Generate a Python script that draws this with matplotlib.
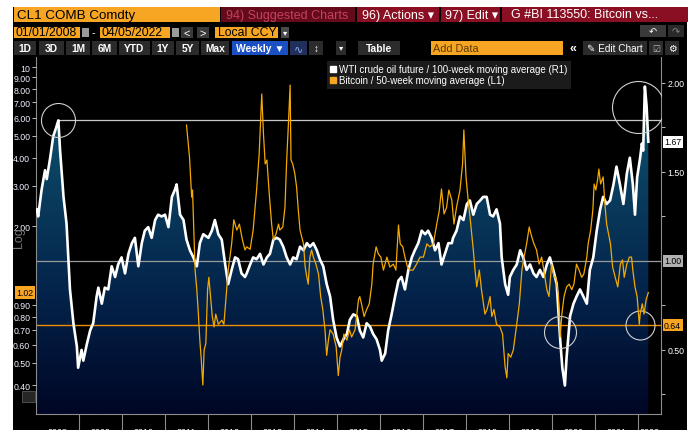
"""
# Bloomberg-style chart: WTI crude vs 100-week MA and Bitcoin vs 50-week MA
"""

### Packages
import numpy as np
import matplotlib
matplotlib.use("Agg")
import matplotlib.pyplot as plt
import matplotlib.transforms as mtransforms
from matplotlib.colors import LinearSegmentedColormap
from matplotlib.lines import Line2D
from matplotlib.patches import Rectangle
from matplotlib.ticker import FixedLocator, FixedFormatter, NullLocator

### Data
# WTI crude oil future / 100-week moving average (right axis, linear)
oil_t = [2008.02, 2008.05, 2008.13, 2008.21, 2008.25, 2008.33, 2008.40, 2008.47, 2008.52, 2008.56,
         2008.64, 2008.71, 2008.75, 2008.79, 2008.87, 2008.95, 2008.98, 2009.06, 2009.10, 2009.18,
         2009.26, 2009.33, 2009.41, 2009.45, 2009.53, 2009.60, 2009.68, 2009.76, 2009.84, 2009.91,
         2009.99, 2010.07, 2010.15, 2010.23, 2010.30, 2010.38, 2010.46, 2010.53, 2010.61, 2010.69,
         2010.77, 2010.84, 2010.92, 2011.00, 2011.08, 2011.16, 2011.23, 2011.27, 2011.35, 2011.43,
         2011.50, 2011.58, 2011.66, 2011.74, 2011.81, 2011.89, 2012.01, 2012.09, 2012.16, 2012.24,
         2012.32, 2012.40, 2012.47, 2012.55, 2012.63, 2012.70, 2012.78, 2012.86, 2012.90, 2012.98,
         2013.05, 2013.13, 2013.21, 2013.29, 2013.37, 2013.44, 2013.52, 2013.60, 2013.67, 2013.75,
         2013.83, 2013.91, 2013.98, 2014.06, 2014.14, 2014.22, 2014.30, 2014.37, 2014.45, 2014.53,
         2014.60, 2014.68, 2014.76, 2014.84, 2014.91, 2014.99, 2015.07, 2015.15, 2015.23, 2015.30,
         2015.38, 2015.46, 2015.53, 2015.61, 2015.69, 2015.77, 2015.84, 2015.92, 2016.00, 2016.04,
         2016.12, 2016.19, 2016.27, 2016.35, 2016.43, 2016.50, 2016.58, 2016.66, 2016.74, 2016.81,
         2016.89, 2016.97, 2017.05, 2017.12, 2017.20, 2017.28, 2017.36, 2017.43, 2017.51, 2017.59,
         2017.67, 2017.70, 2017.78, 2017.86, 2017.94, 2018.02, 2018.09, 2018.17, 2018.25, 2018.33,
         2018.40, 2018.48, 2018.56, 2018.63, 2018.71, 2018.79, 2018.83, 2018.91, 2018.98, 2019.02,
         2019.10, 2019.18, 2019.26, 2019.33, 2019.41, 2019.49, 2019.57, 2019.64, 2019.72, 2019.80,
         2019.88, 2019.95, 2020.03, 2020.11, 2020.19, 2020.24, 2020.30, 2020.34, 2020.42, 2020.50,
         2020.57, 2020.65, 2020.73, 2020.81, 2020.88, 2020.96, 2021.04, 2021.12, 2021.19, 2021.27,
         2021.35, 2021.43, 2021.50, 2021.58, 2021.66, 2021.74, 2021.81, 2021.88, 2021.93, 2021.98,
         2022.05, 2022.09, 2022.12, 2022.16, 2022.20, 2022.24]
oil_v = [1.29, 1.25, 1.40, 1.51, 1.46, 1.58, 1.70, 1.75, 1.79, 1.62,
         1.36, 1.21, 1.02, 0.84, 0.65, 0.52, 0.40, 0.50, 0.44, 0.53,
         0.61, 0.65, 0.80, 0.85, 0.76, 0.85, 0.84, 0.97, 0.91, 0.98,
         1.02, 0.93, 1.04, 1.10, 1.13, 0.97, 1.10, 1.17, 1.19, 1.13,
         1.23, 1.26, 1.25, 1.26, 1.19, 1.36, 1.40, 1.43, 1.26, 1.23,
         1.12, 1.06, 1.02, 0.97, 1.10, 1.15, 1.13, 1.17, 1.23, 1.15,
         1.12, 0.98, 0.87, 0.95, 1.02, 1.01, 0.93, 0.91, 0.93, 0.98,
         1.02, 1.01, 1.04, 0.98, 1.02, 1.04, 1.12, 1.13, 1.12, 1.08,
         1.02, 0.98, 1.02, 1.01, 1.08, 1.06, 1.10, 1.08, 1.10, 1.06,
         1.01, 0.97, 0.87, 0.80, 0.67, 0.57, 0.52, 0.56, 0.59, 0.67,
         0.70, 0.69, 0.61, 0.57, 0.65, 0.63, 0.59, 0.56, 0.50, 0.44,
         0.48, 0.61, 0.70, 0.80, 0.89, 0.91, 0.84, 0.95, 1.02, 1.06,
         1.10, 1.17, 1.15, 1.17, 1.13, 1.06, 1.10, 0.98, 1.04, 1.10,
         1.10, 1.13, 1.17, 1.25, 1.23, 1.32, 1.34, 1.26, 1.32, 1.34,
         1.36, 1.36, 1.26, 1.25, 1.29, 1.21, 1.02, 0.87, 0.81, 0.91,
         0.95, 0.98, 1.06, 1.02, 0.95, 0.98, 0.93, 0.91, 0.95, 0.91,
         0.98, 1.02, 0.95, 0.87, 0.56, 0.40, 0.30, 0.46, 0.69, 0.76,
         0.80, 0.84, 0.80, 0.76, 0.95, 1.02, 1.17, 1.29, 1.36, 1.32,
         1.34, 1.43, 1.53, 1.43, 1.32, 1.49, 1.58, 1.43, 1.26, 1.47,
         1.58, 1.66, 1.62, 1.98, 1.87, 1.67]

# Bitcoin / 50-week moving average (left axis, log)
btc_t = [2011.50, 2011.57, 2011.62, 2011.64, 2011.67, 2011.70, 2011.74, 2011.77, 2011.81, 2011.84,
         2011.88, 2011.91, 2011.95, 2011.99, 2012.02, 2012.06, 2012.10, 2012.14, 2012.18, 2012.24,
         2012.32, 2012.37, 2012.42, 2012.47, 2012.55, 2012.60, 2012.67, 2012.73, 2012.80, 2012.86,
         2012.90, 2012.98, 2013.05, 2013.13, 2013.19, 2013.25, 2013.29, 2013.33, 2013.37, 2013.43,
         2013.48, 2013.52, 2013.58, 2013.64, 2013.67, 2013.74, 2013.79, 2013.83, 2013.87, 2013.91,
         2013.93, 2013.97, 2014.02, 2014.06, 2014.10, 2014.14, 2014.18, 2014.22, 2014.26, 2014.30,
         2014.33, 2014.37, 2014.41, 2014.45, 2014.51, 2014.57, 2014.62, 2014.67, 2014.72, 2014.76,
         2014.80, 2014.84, 2014.91, 2014.98, 2015.03, 2015.07, 2015.11, 2015.16, 2015.23, 2015.29,
         2015.34, 2015.42, 2015.50, 2015.53, 2015.57, 2015.63, 2015.69, 2015.75, 2015.81, 2015.84,
         2015.91, 2015.96, 2016.02, 2016.08, 2016.16, 2016.23, 2016.31, 2016.37, 2016.43, 2016.47,
         2016.53, 2016.58, 2016.64, 2016.70, 2016.77, 2016.85, 2016.93, 2017.01, 2017.09, 2017.16,
         2017.24, 2017.32, 2017.38, 2017.43, 2017.49, 2017.55, 2017.60, 2017.67, 2017.72, 2017.78,
         2017.86, 2017.92, 2017.95, 2018.00, 2018.05, 2018.11, 2018.17, 2018.21, 2018.25, 2018.31,
         2018.36, 2018.44, 2018.49, 2018.56, 2018.60, 2018.65, 2018.71, 2018.79, 2018.85, 2018.91,
         2018.95, 2018.98, 2019.04, 2019.10, 2019.18, 2019.24, 2019.30, 2019.35, 2019.41, 2019.47,
         2019.53, 2019.58, 2019.64, 2019.70, 2019.76, 2019.81, 2019.88, 2019.93, 2019.99, 2020.05,
         2020.09, 2020.15, 2020.19, 2020.23, 2020.28, 2020.34, 2020.40, 2020.46, 2020.51, 2020.57,
         2020.63, 2020.69, 2020.74, 2020.81, 2020.84, 2020.90, 2020.95, 2020.98, 2021.02, 2021.06,
         2021.09, 2021.13, 2021.19, 2021.23, 2021.27, 2021.36, 2021.41, 2021.47, 2021.53, 2021.59,
         2021.64, 2021.68, 2021.74, 2021.80, 2021.85, 2021.88, 2021.93, 2021.98, 2022.03, 2022.05,
         2022.10, 2022.14, 2022.19, 2022.24]
btc_v = [5.56, 4.02, 2.68, 2.88, 1.92, 1.28, 1.05, 0.86, 0.63, 0.53,
         0.40, 0.57, 0.61, 1.05, 1.19, 0.98, 0.80, 0.72, 0.82, 0.74,
         0.77, 0.74, 0.98, 1.28, 1.67, 2.13, 1.92, 2.04, 1.74, 1.57,
         1.62, 1.58, 1.92, 2.88, 4.15, 7.61, 5.08, 3.75, 3.90, 2.68,
         2.04, 1.74, 1.84, 2.04, 1.92, 1.98, 2.42, 3.90, 5.62, 8.33,
         3.90, 3.75, 3.39, 2.97, 2.35, 1.92, 1.79, 1.67, 1.32, 1.19,
         1.11, 1.46, 1.57, 1.46, 1.36, 1.23, 0.98, 0.86, 0.70, 0.54,
         0.63, 0.70, 0.67, 0.59, 0.44, 0.53, 0.57, 0.67, 0.63, 0.70,
         0.65, 0.70, 0.95, 0.98, 0.91, 0.80, 0.86, 0.91, 1.11, 1.36,
         1.62, 1.51, 1.46, 1.28, 1.46, 1.32, 1.36, 1.28, 2.02, 1.67,
         1.62, 1.46, 1.32, 1.28, 1.28, 1.36, 1.46, 1.46, 1.67, 1.62,
         1.67, 2.04, 2.35, 2.91, 2.26, 2.42, 2.88, 2.60, 2.04, 2.42,
         2.88, 3.75, 5.29, 3.29, 2.60, 2.04, 1.57, 1.28, 1.08, 1.28,
         1.05, 0.82, 0.86, 0.98, 0.80, 0.86, 0.74, 0.72, 0.67, 0.48,
         0.43, 0.55, 0.53, 0.57, 0.74, 0.91, 1.28, 1.46, 1.67, 1.98,
         1.79, 1.67, 1.57, 1.36, 1.46, 1.28, 1.05, 0.98, 1.36, 1.19,
         1.19, 0.98, 0.65, 0.82, 0.98, 1.08, 1.11, 1.05, 1.11, 1.36,
         1.28, 1.19, 1.23, 1.46, 1.67, 1.92, 2.35, 3.06, 2.88, 3.19,
         3.56, 3.06, 3.29, 2.50, 2.04, 1.67, 1.32, 1.19, 1.08, 1.36,
         1.42, 1.19, 1.36, 1.46, 1.46, 1.28, 1.08, 0.98, 0.74, 0.82,
         0.91, 0.82, 0.95, 1.02]

oil_last = 1.67
btc_last = 1.02
oil_peak_2008 = (2008.52, 1.79)      # horizontal reference line from the 2008 high
ref_levels = [1.00, 0.64]            # horizontal lines on the right axis

# circled spots (year, right-axis value)
circle_t = [2008.51, 2022.00, 2020.19, 2022.05]
circle_v = [1.79, 1.865, 0.60, 0.64]

years = list(range(2008, 2023))
left_ticks = [0.4, 0.5, 0.6, 0.7, 0.8, 0.9, 2, 3, 4, 5, 6, 7, 8, 9, 10]
left_labels = ["0.40", "0.50", "0.60", "0.70", "0.80", "0.90", "2.00", "3.00", "4.00",
               "5.00", "6.00", "7.00", "8.00", "9.00", "10"]
right_ticks = [0.5, 1.5, 2.0]
right_minor = [0.25, 0.75, 1.25, 1.75]

### Style
plt.rcParams["font.family"] = ["Liberation Sans", "DejaVu Sans"]
AMBER = "#f7a623"
BTC_COL = "#f4a900"
GRID = "#8c8c8c"

W, H = 691, 431
fig = plt.figure(figsize=(W / 100, H / 100), dpi=100, facecolor="white")


# Helpers for the terminal chrome, in screen pixels from the top-left corner
def px_rect(x, y, w, h, fc, ec="none", lw=0.6, z=1):
    fig.add_artist(Rectangle((x / W, 1 - (y + h) / H), w / W, h / H,
                             transform=fig.transFigure, fc=fc, ec=ec, lw=lw, zorder=z))


def px_text(x, y, s, color="white", size=8, ha="left", **kw):
    fig.text(x / W, 1 - y / H, s, color=color, fontsize=size, ha=ha, va="center", **kw)


# Black terminal window
px_rect(13, 8, 674, 423, "black", z=-10)

# Title bar
px_rect(14, 8, 206, 15, AMBER)
px_text(17, 15.5, "CL1 COMB Comdty", color="black", size=9.6)
px_rect(221, 8, 134, 15, "#650a1a")
px_text(226, 15.5, "94) Suggested Charts", color="#c4425e", size=9)
px_rect(357, 8, 82, 15, "#8a0f22")
px_text(362, 15.5, "96) Actions \u25be", size=9)
px_rect(441, 8, 59, 15, "#8a0f22")
px_text(445, 15.5, "97) Edit \u25be", size=9)
px_rect(502, 8, 186, 15, "#8a0f22")
px_text(511, 15.5, "G #BI 113550: Bitcoin vs...", size=9)

# Date row
px_rect(14, 28, 66, 11, AMBER)
px_text(16, 33.5, "01/01/2008", color="black", size=8.8)
px_rect(82, 29, 7, 9, "#9a9a9a")
px_text(92, 33.5, "-", size=8)
px_rect(100, 28, 70, 11, AMBER)
px_text(102, 33.5, "04/05/2022", color="black", size=8.8)
px_rect(172, 29, 7, 9, "#9a9a9a")
px_rect(181, 28, 12, 11, "#3a3a3a")
px_text(187, 33.5, "<", size=8, ha="center")
px_rect(197, 28, 12, 11, "#3a3a3a")
px_text(203, 33.5, ">", size=8, ha="center")
px_rect(215, 28, 63, 11, AMBER)
px_text(218, 33.5, "Local CCY", color="black", size=8.8)
px_rect(281, 28, 8, 11, "#4a4a4a")
px_text(285, 33.5, "\u25be", size=6, ha="center")
px_rect(640, 26, 26, 12, "#3a3a3a")
px_text(653, 32, "\u21b6", size=7, ha="center")
px_rect(668, 26, 16, 12, "#2a2a2a")
px_text(676, 32, "\u21b7", size=7, ha="center", color="#888888")

# Toolbar
buttons = [("1D", 14, 22), ("3D", 39, 25), ("1M", 66, 24), ("6M", 92, 25), ("YTD", 119, 31),
           ("1Y", 152, 22), ("5Y", 176, 23), ("Max", 201, 28)]
for name, bx, bw in buttons:
    px_rect(bx, 42, bw, 14, "#2b2b2b")
    px_text(bx + bw / 2, 49, name, size=7.4, ha="center", fontweight="bold")
px_rect(232, 42, 56, 14, "#1b4fc4")
px_text(260, 49, "Weekly \u25bc", size=7.4, ha="center", fontweight="bold")
px_rect(290, 42, 17, 14, "#20305a")
px_text(298.5, 49, "\u223f", size=8, ha="center", color="#8fb0ff")
px_rect(309, 42, 14, 14, "#2b2b2b")
px_text(316, 49, "\u2195", size=7, ha="center")
px_rect(336, 42, 10, 14, "#2b2b2b")
px_text(341, 49, "\u25be", size=6, ha="center")
px_rect(358, 42, 42, 14, "#2b2b2b")
px_text(379, 49, "Table", size=7.4, ha="center", fontweight="bold")
px_rect(431, 42, 132, 14, AMBER)
px_text(433, 49, "Add Data", color="#5a3a00", size=7.8)
px_text(570, 49, "\u00ab", size=9, fontweight="bold")
px_rect(583, 42, 64, 14, "#2b2b2b")
px_text(615, 49, "\u270e Edit Chart", size=7.2, ha="center")
px_rect(649, 42, 14, 14, "#2b2b2b")
px_text(656, 49, "\u2611", size=6.5, ha="center", color="#bbbbbb")
px_rect(665, 42, 14, 14, "#2b2b2b")
px_text(672, 49, "\u2699", size=7, ha="center")

# Small chart-type icon left of the plot, and the axis scale note
px_rect(22, 392, 13, 11, "#262626", ec="#555555")
px_text(19, 238, "Log", color="#777777", size=9, ha="center", rotation=90)

### Axes
ax = fig.add_axes([36 / W, 1 - 415 / H, 625 / W, 357 / H])
ax.set_facecolor("black")
axl = ax.twinx()

x_lo, x_hi = 2008.0, 2022.535
ax.set_xlim(x_lo, x_hi)
ax.set_ylim(0.140, 2.146)
axl.set_yscale("log")
axl.set_ylim(0.2983, 11.07)

# Gradient area under the oil ratio
fill_cmap = LinearSegmentedColormap.from_list("bbg", ["#000625", "#04234a", "#0a4060", "#11607e"])
poly = ax.fill_between(oil_t, oil_v, 0.0, color="none", lw=0)
grad = np.linspace(1, 0, 256).reshape(-1, 1)
img = ax.imshow(grad, extent=[oil_t[0], oil_t[-1], 0.140, 2.146], aspect="auto",
                cmap=fill_cmap, origin="upper", zorder=1, interpolation="bilinear")
img.set_clip_path(poly.get_paths()[0], transform=ax.transData)
ax.set_xlim(x_lo, x_hi)
ax.set_ylim(0.140, 2.146)

# Reference lines
ax.hlines(oil_peak_2008[1], oil_peak_2008[0], x_hi, color="#c8c8c8", lw=0.9, zorder=2)
ax.axhline(ref_levels[0], color="#9a9a9a", lw=0.9, zorder=2)
ax.axhline(ref_levels[1], color="#f08c00", lw=1.0, zorder=2)

# Oil line on top of the fill
ax.plot(oil_t, oil_v, color="white", lw=1.9, zorder=3, solid_joinstyle="round")

# Circled spots
for t, v, d in zip(circle_t, circle_v, [34, 52, 32, 29]):
    ax.plot([t], [v], "o", ms=d * 0.72, mfc="none", mec="#d0d0d0", mew=0.8, zorder=6)

# Bitcoin line on the log axis (drawn above)
axl.plot(btc_t, btc_v, color=BTC_COL, lw=0.9, zorder=4)

# Spines
for side in ["left", "right", "bottom"]:
    ax.spines[side].set_color(GRID)
    ax.spines[side].set_linewidth(0.8)
ax.spines["top"].set_visible(False)
for side in axl.spines:
    axl.spines[side].set_visible(False)

# Right (linear) ticks
ax.yaxis.tick_right()
ax.yaxis.set_major_locator(FixedLocator(right_ticks))
ax.yaxis.set_major_formatter(FixedFormatter(["%.2f" % v for v in right_ticks]))
ax.yaxis.set_minor_locator(FixedLocator(right_minor))
ax.tick_params(axis="y", which="both", direction="out", length=3, width=0.7,
               color="#bbbbbb", labelcolor="white", labelsize=6.3, pad=1.5)

# Left (log) ticks
axl.yaxis.tick_left()
axl.yaxis.set_major_locator(FixedLocator(left_ticks))
axl.yaxis.set_major_formatter(FixedFormatter(left_labels))
axl.yaxis.set_minor_locator(NullLocator())
axl.tick_params(axis="y", which="major", direction="out", length=3, width=0.7,
                color="#bbbbbb", labelcolor="#eef0ff", labelsize=6.3, pad=1.2)

# X axis: year separators and centred year labels
ax.xaxis.set_major_locator(FixedLocator(years[1:]))
ax.xaxis.set_major_formatter(FixedFormatter([""] * len(years[1:])))
mid = [y + 0.5 for y in years[:-1]] + [(years[-1] + x_hi) / 2]
ax.xaxis.set_minor_locator(FixedLocator(mid))
ax.xaxis.set_minor_formatter(FixedFormatter([str(y) for y in years]))
ax.tick_params(axis="x", which="major", direction="out", length=12, width=0.8, color=GRID)
ax.tick_params(axis="x", which="minor", length=0, pad=9.3, labelcolor="white", labelsize=6.5)

# Last-value tags
tr_r = mtransforms.blended_transform_factory(ax.transAxes, ax.transData)
tr_l = mtransforms.blended_transform_factory(axl.transAxes, axl.transData)
tag_font = dict(fontsize=6.3, color="black", va="center", clip_on=False, zorder=8)
ax.text(1.005, oil_last, "%.2f" % oil_last, transform=tr_r, ha="left",
        bbox=dict(boxstyle="square,pad=0.18", fc="white", ec="none"), **tag_font)
ax.text(1.005, ref_levels[0], "%.2f" % ref_levels[0], transform=tr_r, ha="left",
        bbox=dict(boxstyle="square,pad=0.18", fc="#b0b0b0", ec="none"), **tag_font)
ax.text(1.005, ref_levels[1], "%.2f" % ref_levels[1], transform=tr_r, ha="left",
        bbox=dict(boxstyle="square,pad=0.18", fc=AMBER, ec="none"), **tag_font)
axl.text(-0.004, btc_last, "%.2f" % btc_last, transform=tr_l, ha="right",
         bbox=dict(boxstyle="square,pad=0.18", fc=AMBER, ec="none"), **tag_font)

# Legend
handles = [Line2D([], [], ls="none", marker="s", ms=5, mfc="white", mec="white"),
           Line2D([], [], ls="none", marker="s", ms=5, mfc=AMBER, mec=AMBER)]
labels = ["WTI crude oil future / 100-week moving average (R1)",
          "Bitcoin / 50-week moving average (L1)"]
leg = axl.legend(handles, labels, loc="upper left", bbox_to_anchor=(327 / W, 1 - 62 / H),
                 bbox_transform=fig.transFigure, fontsize=7, labelcolor="white",
                 frameon=True, fancybox=False, borderpad=0.35, labelspacing=0.1,
                 handlelength=0.6, handletextpad=0.3, borderaxespad=0)
leg.get_frame().set_facecolor("#1b1b1b")
leg.get_frame().set_edgecolor("none")
leg.get_frame().set_alpha(1)
leg.set_zorder(10)

fig.savefig("out.png", dpi=100, facecolor="white")
